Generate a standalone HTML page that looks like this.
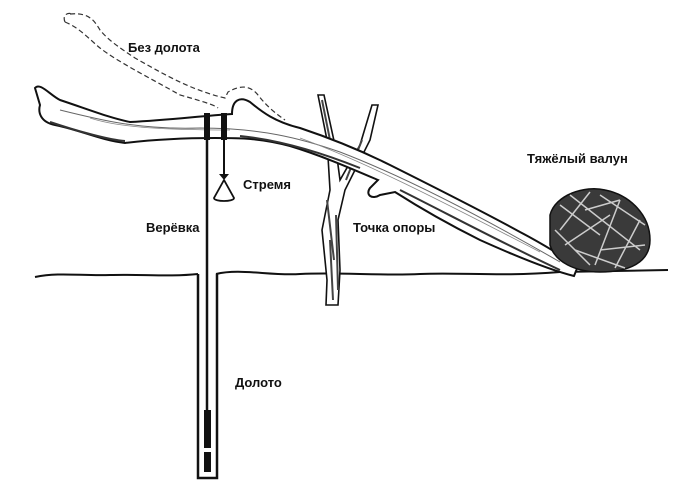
<!DOCTYPE html>
<html><head><meta charset="utf-8"><style>
html,body{margin:0;padding:0;background:#fff}
svg{display:block}
text{font-family:"Liberation Sans","DejaVu Sans",sans-serif;font-weight:bold;font-size:13px;fill:#111}
</style></head><body>
<svg width="700" height="480" viewBox="0 0 700 480" xmlns="http://www.w3.org/2000/svg">
<!-- dashed silhouette -->
<path d="M70,14 C90,12 95,22 100,30 C108,40 120,48 135,58 C160,72 190,90 225,98 L228,92 C240,85 250,85 258,95 C268,108 278,115 285,120" fill="none" stroke="#333" stroke-width="1.2" stroke-dasharray="5,3"/>
<path d="M65,22 C62,15 68,12 72,14 M65,22 C80,28 90,40 100,48 C118,62 150,78 180,95 C198,100 215,105 218,108" fill="none" stroke="#333" stroke-width="1.2" stroke-dasharray="5,3"/>
<!-- ground -->
<path d="M35,277 C60,272 80,276 110,275 C140,274 170,277 198,274 M216,274 C240,268 270,276 300,274 C340,272 380,276 420,274 C460,272 500,277 560,272 L668,270" fill="none" stroke="#111" stroke-width="2"/>
<!-- shaft -->
<path d="M198,274 L198,478 L217,478 L217,274" fill="none" stroke="#111" stroke-width="2.5"/>
<line x1="207" y1="115" x2="207" y2="410" stroke="#111" stroke-width="2.5"/>
<rect x="204" y="410" width="7" height="38" fill="#111"/>
<rect x="204" y="452" width="7" height="20" fill="#111"/>
<!-- post -->
<path d="M318,95 L327,140 L330,190 L322,230 L327,280 L326,305 L338,305 L340,270 L338,220 L345,190 L370,140 L378,105 L372,105 L360,145 L340,180 L336,150 L324,95 Z" fill="#fff" stroke="#111" stroke-width="1.6"/>
<path d="M330,240 L333,300 M327,200 L334,260 M336,215 L338,290 M362,140 L346,180 M322,100 L330,140" stroke="#444" stroke-width="2"/>
<!-- log -->
<path d="M35,88 C40,82 50,95 60,100 C90,110 110,118 130,122 C170,120 200,116 232,114 C232,100 240,96 250,102 C262,112 275,122 300,128 C330,138 360,150 390,165 C430,185 480,210 520,232 C545,245 560,255 578,266 L574,276 C550,270 520,258 480,240 C450,225 420,208 395,192 L380,195 C372,200 365,195 370,188 L378,180 C350,168 320,155 290,146 C260,138 240,138 215,138 C180,138 150,140 125,143 C100,140 80,130 55,125 C40,122 38,112 40,105 Z" fill="#fff" stroke="#111" stroke-width="2"/>
<path d="M60,110 C100,120 140,130 200,128 C260,128 300,138 340,152 C400,175 470,210 560,262" fill="none" stroke="#666" stroke-width="1"/>
<path d="M90,118 C120,128 170,130 230,130 M300,138 C360,160 430,195 540,252" fill="none" stroke="#888" stroke-width="0.8"/>
<path d="M50,122 C80,132 110,140 125,141 M240,136 C280,140 320,152 360,168 M400,190 C450,215 500,242 560,270" fill="none" stroke="#333" stroke-width="2"/>
<!-- ropes on log -->
<rect x="204" y="113" width="6" height="27" fill="#111"/>
<rect x="221" y="113" width="6" height="27" fill="#111"/>
<line x1="224" y1="140" x2="224" y2="177" stroke="#111" stroke-width="2"/>
<path d="M219,174 L229,174 L224,180 Z" fill="#111"/>
<path d="M224,180 L214,198 C214,202 234,202 234,198 Z" fill="#fff" stroke="#111" stroke-width="1.8"/>
<!-- boulder -->
<path d="M550,215 C555,195 585,185 605,190 C630,195 650,215 650,240 C650,262 630,272 600,272 C575,272 555,262 550,245 Z" fill="#3a3a3a" stroke="#111" stroke-width="1.5"/>
<path d="M560,205 L600,235 M570,195 L640,250 M555,230 L590,265 M600,195 L645,225 M575,250 L625,268 M585,210 L620,200 M565,245 L610,215 M600,250 L645,245 M590,192 L560,230 M620,200 L595,265 M640,220 L615,268" stroke="#ccc" stroke-width="1.5"/>
<!-- labels -->
<text x="128" y="52">Без долота</text>
<text x="243" y="189">Стремя</text>
<text x="146" y="232">Верёвка</text>
<text x="353" y="232">Точка опоры</text>
<text x="527" y="163">Тяжёлый валун</text>
<text x="235" y="387">Долото</text>
</svg>
</body></html>
